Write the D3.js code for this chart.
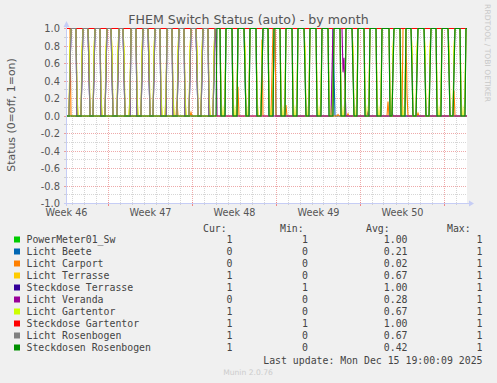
<!DOCTYPE html>
<html><head><meta charset="utf-8">
<script src="https://cdn.jsdelivr.net/npm/d3@7"></script>
<style>body{margin:0;background:#f0f0f0}svg{display:block}</style>
</head><body>
<svg id="c" width="497" height="383"></svg>
<script>
// ---------------- data ----------------
const chartTitle = "FHEM Switch Status (auto) - by month";
const yAxisLabel = "Status (0=off, 1=on)";
const watermark = "RRDTOOL / TOBI OETIKER";
const lastUpdate = "Last update: Mon Dec 15 19:00:09 2025";
const footer = "Munin 2.0.76";

const viewStart = "2025-11-12T14:00Z";
const viewEnd = "2025-12-15T22:00Z";
const stepHours = 2;

const yTicks = [-1, -0.8, -0.6, -0.4, -0.2, 0, 0.2, 0.4, 0.6, 0.8, 1];
const weekLabels = ["Week 46", "Week 47", "Week 48", "Week 49", "Week 50"];
const weekLabelTimes = ["2025-11-12T12:00Z", "2025-11-19T12:00Z", "2025-11-26T12:00Z", "2025-12-03T12:00Z", "2025-12-10T12:00Z"];

const seriesNames = ["PowerMeter01_Sw", "Licht Beete", "Licht Carport", "Licht Terrasse", "Steckdose Terrasse",
  "Licht Veranda", "Licht Gartentor", "Steckdose Gartentor", "Licht Rosenbogen", "Steckdosen Rosenbogen"];
const seriesColors = ["#00cc00", "#0066b3", "#ff8000", "#ffcc00", "#330099",
  "#990099", "#ccff00", "#ff0000", "#808080", "#008f00"];
const legCur = ["1", "0", "0", "1", "1", "0", "1", "1", "1", "1"];
const legMin = ["1", "0", "0", "0", "1", "0", "0", "1", "0", "0"];
const legAvg = ["1.00", "0.21", "0.02", "0.67", "1.00", "0.28", "0.67", "1.00", "0.67", "0.42"];
const legMax = ["1", "1", "1", "1", "1", "1", "1", "1", "1", "1"];

// daily light schedule (off during daytime), hours of day, one entry per day from Nov 12
const scheduleFirstDay = "2025-11-12";
const offFrom = [8, 8, 9, 8, 7, 7, 8, 9, 8, 8, 8, 9, 8, 8, 8, 9, 8, 8, 8, 8, 9, 8, 8, 8, 9, 8, 8, 10, 8, 7, 9, 8, 9, 8];
const offTo   = [19, 19, 19, 19, 19, 20, 19, 19, 20, 19, 19, 19, 19, 18, 18, 18, 19, 18, 18, 18, 18, 18, 18, 18, 18, 18, 18, 17, 18, 17, 19, 18, 19, 18];
// sensor lamps switch slightly later/earlier (hours)
const lampLag = [0.5, -0.5];

// periods per series: [from, to, state]  (state 1 = on, "S" = daily schedule, "L" = lamp schedule)
const pPowerMeter = [["2025-11-01T00:00Z", "2026-01-01T00:00Z", 1]];
const pBeete = [["2025-11-01T00:00Z", "2025-11-29T22:00Z", "S"], ["2025-12-04T16:00Z", "2025-12-04T19:00Z", 1]];
const pCarport = [["2025-11-01T00:00Z", "2025-11-12T20:00Z", 1],
  ["2025-11-21T16:40Z", "2025-11-21T17:00Z", 1], ["2025-11-22T20:50Z", "2025-11-22T20:55Z", 1],
  ["2025-11-26T18:30Z", "2025-11-26T19:10Z", 1], ["2025-11-28T18:00Z", "2025-11-28T19:45Z", 1],
  ["2025-11-29T15:00Z", "2025-11-29T22:00Z", 1], ["2025-11-30T18:40Z", "2025-11-30T18:55Z", 1],
  ["2025-12-05T02:00Z", "2025-12-05T02:02Z", 1], ["2025-12-05T22:00Z", "2025-12-05T22:03Z", 1],
  ["2025-12-09T06:30Z", "2025-12-09T06:50Z", 1], ["2025-12-10T12:00Z", "2025-12-10T20:30Z", 1],
  ["2025-12-11T18:00Z", "2025-12-11T18:04Z", 1], ["2025-12-14T18:10Z", "2025-12-14T18:45Z", 1]];
const pTerrasse = [["2025-11-01T00:00Z", "2026-01-01T00:00Z", "L"]];
const pSteckTerrasse = [["2025-11-01T00:00Z", "2026-01-01T00:00Z", 1]];
const pVeranda = [["2025-11-01T00:00Z", "2025-11-25T00:00Z", "S"], ["2025-12-04T15:00Z", "2025-12-05T13:00Z", 1],
  ["2025-12-05T14:00Z", "2025-12-05T15:20Z", 1], ["2025-12-05T16:00Z", "2025-12-05T16:40Z", 1],
  ["2025-12-07T14:00Z", "2025-12-07T14:05Z", 1], ["2025-12-09T14:00Z", "2025-12-09T14:06Z", 1]];
const pGartentor = [["2025-11-01T00:00Z", "2026-01-01T00:00Z", "L"]];
const pSteckGartentor = [["2025-11-01T00:00Z", "2026-01-01T00:00Z", 1]];
const pRosenbogen = [["2025-11-01T00:00Z", "2026-01-01T00:00Z", "S"]];
const pSteckRosenbogen = [["2025-11-25T00:00Z", "2026-01-01T00:00Z", "S"]];
const seriesPeriods = [pPowerMeter, pBeete, pCarport, pTerrasse, pSteckTerrasse, pVeranda, pGartentor, pSteckGartentor, pRosenbogen, pSteckRosenbogen];

// ---------------- build ----------------
const HOUR = 36e5, DAY = 864e5;
const day0 = Date.parse(scheduleFirstDay + "T00:00Z");
function schedState(t, lag) {
  const i = Math.floor((t - day0) / DAY);
  if (i < 0 || i >= offFrom.length) return 1;
  const h = (t - day0 - i * DAY) / HOUR;
  return (h >= offFrom[i] + lag[0] && h < offTo[i] + lag[1]) ? 0 : 1;
}
const parsedPeriods = seriesPeriods.map(ps => ps.map(p => [Date.parse(p[0]), Date.parse(p[1]), p[2]]));
function stateAt(k, t) {
  let s = 0;
  for (const p of parsedPeriods[k]) {
    if (t >= p[0] && t < p[1]) {
      if (p[2] === 1) s = 1;
      else if (p[2] === "S") s = schedState(t, [0, 0]);
      else if (p[2] === "L") s = schedState(t, lampLag);
    }
  }
  return s;
}
const STEP = stepHours * HOUR;
const t0 = Date.parse(viewStart), t1 = Date.parse(viewEnd);
const seriesData = seriesNames.map((n, k) => {
  const pts = [];
  for (let t = t0 - STEP; t < t1; t += STEP) {
    let on = 0;
    for (let m = 0; m < 120; m++) on += stateAt(k, t + m * 60000 + 30000);
    pts.push([new Date(t + STEP), on / 120]);
  }
  return pts;
});

// ---------------- draw ----------------
const W = 497, H = 383;
const P = {l: 67, t: 28, r: 467, b: 203};
const svg = d3.select("#c");
svg.append("rect").attr("width", W).attr("height", H).attr("fill", "#f0f0f0");
svg.append("rect").attr("x", P.l).attr("y", P.t).attr("width", P.r - P.l).attr("height", P.b - P.t + 1).attr("fill", "#ffffff");

const x = d3.scaleUtc().domain([new Date(t0), new Date(t1)]).range([P.l, P.r]);
const y = d3.scaleLinear().domain([-1, 1]).range([P.b + 0.5, P.t + 0.5]);
const px = v => Math.round(v - 0.5) + 0.5;

const grid = svg.append("g").attr("shape-rendering", "crispEdges");
// minor horizontal
y.ticks(20).forEach(v => {
  const yy = px(y(v));
  grid.append("line").attr("x1", P.l).attr("x2", P.r).attr("y1", yy).attr("y2", yy)
    .attr("stroke", "#d6d6d6").attr("stroke-dasharray", "1,1");
  grid.append("line").attr("x1", P.l - 3).attr("x2", P.l).attr("y1", yy).attr("y2", yy).attr("stroke", "#d0d0d0");
});
// minor vertical (days)
d3.utcDay.range(new Date(t0), new Date(t1)).forEach(d => {
  const xx = px(x(d));
  grid.append("line").attr("x1", xx).attr("x2", xx).attr("y1", P.t).attr("y2", P.b)
    .attr("stroke", "#d6d6d6").attr("stroke-dasharray", "1,1");
  grid.append("line").attr("x1", xx).attr("x2", xx).attr("y1", P.b).attr("y2", P.b + 2).attr("stroke", "#d0d0d0");
});
// major horizontal
yTicks.forEach(v => {
  const yy = px(y(v));
  grid.append("line").attr("x1", P.l).attr("x2", P.r).attr("y1", yy).attr("y2", yy)
    .attr("stroke", "#eeaaaa").attr("stroke-dasharray", "1,1");
  grid.append("line").attr("x1", P.l - 3).attr("x2", P.l).attr("y1", yy).attr("y2", yy).attr("stroke", "#e8a0a0");
});
// major vertical (weeks)
d3.utcSunday.range(new Date(t0), new Date(t1)).forEach(d => {
  const xx = px(x(d));
  grid.append("line").attr("x1", xx).attr("x2", xx).attr("y1", P.t).attr("y2", P.b)
    .attr("stroke", "#eeaaaa").attr("stroke-dasharray", "1,1");
  grid.append("line").attr("x1", xx).attr("x2", xx).attr("y1", P.b - 1).attr("y2", P.b + 3).attr("stroke", "#f08888");
});

// axes
const axisCol = "#c6cdf5";
svg.append("line").attr("x1", P.l - 3).attr("x2", P.r + 3).attr("y1", P.b + 0.5).attr("y2", P.b + 0.5).attr("stroke", axisCol);
svg.append("line").attr("x1", P.l - 0.5).attr("x2", P.l - 0.5).attr("y1", P.t - 2).attr("y2", P.b + 3).attr("stroke", axisCol);
svg.append("path").attr("d", `M${P.r + 2},${P.b - 2.5}L${P.r + 7},${P.b + 0.5}L${P.r + 2},${P.b + 3.5}Z`).attr("fill", axisCol);
svg.append("path").attr("d", `M${P.l - 3.5},${P.t - 1}L${P.l - 0.5},${P.t - 7}L${P.l + 2.5},${P.t - 1}Z`).attr("fill", axisCol);

// y tick labels
const yAxis = d3.axisLeft(y).tickValues(yTicks).tickSize(0).tickPadding(0).tickFormat(d => d.toFixed(1));
const gy = svg.append("g").attr("transform", `translate(${P.l - 7},0)`).call(yAxis);
gy.select(".domain").remove();
gy.selectAll("text").attr("font-family", "DejaVu Sans").attr("font-size", "9.9px").attr("fill", "#555").attr("dy", "0.34em");

// x labels
const xAxis = d3.axisBottom(x).tickValues(weekLabelTimes.map(s => new Date(Date.parse(s)))).tickSize(0).tickPadding(0)
  .tickFormat((d, i) => weekLabels[i]);
const gx = svg.append("g").attr("transform", `translate(0,${P.b + 6})`).call(xAxis);
gx.select(".domain").remove();
gx.selectAll("text").attr("font-family", "DejaVu Sans").attr("font-size", "9.7px").attr("fill", "#555").attr("dy", "0.72em");

// series lines
svg.append("clipPath").attr("id", "clp").append("rect").attr("x", P.l).attr("y", P.t - 1).attr("width", P.r - P.l + 1).attr("height", P.b - P.t + 3);
const line = d3.line().x(d => x(d[0])).y(d => y(d[1]));
const gl = svg.append("g").attr("clip-path", "url(#clp)");
seriesData.forEach((pts, k) => {
  gl.append("path").attr("d", line(pts)).attr("fill", "none").attr("stroke", seriesColors[k]).attr("stroke-width", 1.1)
    .attr("stroke-linejoin", "miter");
});

// title
svg.append("text").attr("x", 248.5).attr("y", 23.5).attr("text-anchor", "middle").attr("font-family", "DejaVu Sans")
  .attr("font-size", "12.6px").attr("fill", "#555").text(chartTitle);
// y axis label
svg.append("text").attr("transform", `translate(15,${115})rotate(-90)`).attr("text-anchor", "middle").attr("font-family", "DejaVu Sans")
  .attr("font-size", "10.9px").attr("fill", "#555").text(yAxisLabel);
// watermark
svg.append("text").attr("transform", `translate(485,${53})rotate(90)`).attr("text-anchor", "middle").attr("font-family", "DejaVu Sans")
  .attr("font-size", "7.6px").attr("fill", "#c8c8c8").text(watermark);

// legend
const mono = "DejaVu Sans Mono", lf = "9.85px", lc = "#444";
const hdr = [["Cur:", 203], ["Min:", 280], ["Avg:", 366], ["Max:", 447]];
hdr.forEach(h => svg.append("text").attr("x", h[1]).attr("y", 228 + 3.5).attr("font-family", mono).attr("font-size", lf).attr("fill", lc).text(h[0]));
const colEnds = [232.5, 308, 407.5, 482.5];
seriesNames.forEach((n, i) => {
  const cy = 239.5 + 12 * i;
  svg.append("rect").attr("x", 14).attr("y", cy - 3).attr("width", 6).attr("height", 6).attr("fill", seriesColors[i]);
  svg.append("text").attr("x", 26.5).attr("y", cy + 3.5).attr("font-family", mono).attr("font-size", lf).attr("fill", lc).text(n);
  [legCur[i], legMin[i], legAvg[i], legMax[i]].forEach((v, j) => {
    svg.append("text").attr("x", colEnds[j]).attr("y", cy + 3.5).attr("text-anchor", "end").attr("font-family", mono)
      .attr("font-size", lf).attr("fill", lc).text(v);
  });
});
svg.append("text").attr("x", 482.5).attr("y", 360 + 3.5).attr("text-anchor", "end").attr("font-family", mono)
  .attr("font-size", lf).attr("fill", lc).text(lastUpdate);
svg.append("text").attr("x", 248).attr("y", 372 + 3).attr("text-anchor", "middle").attr("font-family", "DejaVu Sans")
  .attr("font-size", "7.6px").attr("fill", "#cccccc").text(footer);
</script>
</body></html>
